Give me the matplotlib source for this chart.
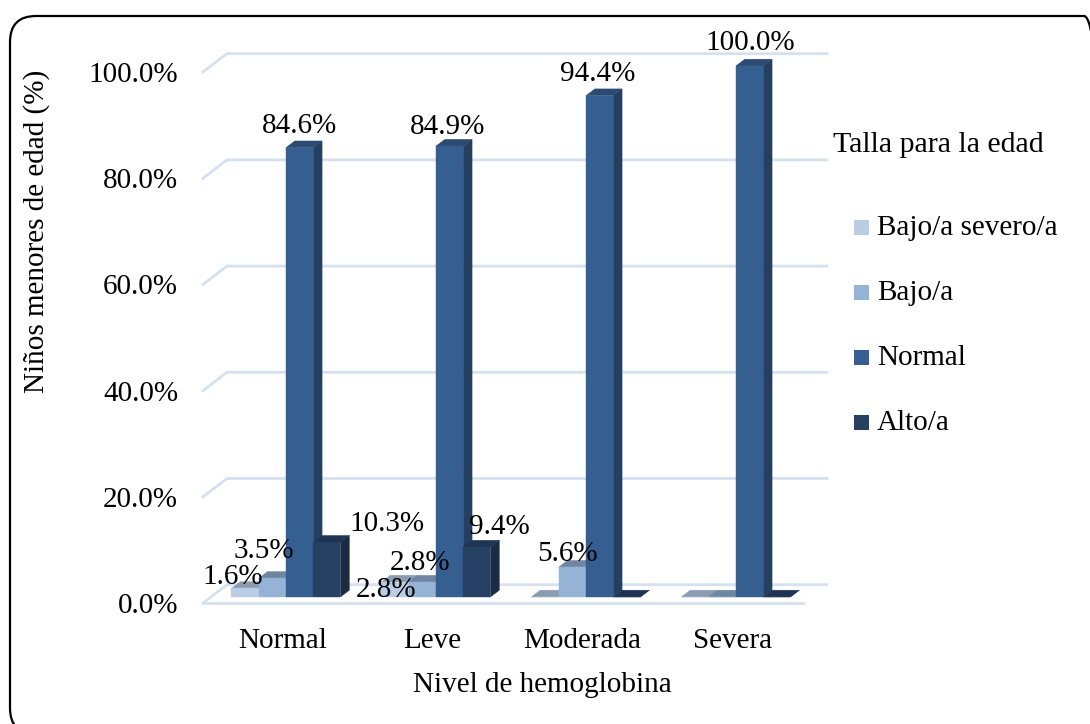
import matplotlib

matplotlib.use("Agg")
import matplotlib.pyplot as plt
from matplotlib.patches import Polygon, Rectangle, FancyBboxPatch
from matplotlib.transforms import IdentityTransform

categories = ["Normal", "Leve", "Moderada", "Severa"]
series_names = ["Bajo/a severo/a", "Bajo/a", "Normal", "Alto/a"]
bajo_severo = [1.6, 2.8, 0.0, 0.0]
bajo = [3.5, 2.8, 5.6, 0.0]
normal = [84.6, 84.9, 94.4, 100.0]
alto = [10.3, 9.4, 0.0, 0.0]
yticks = [0, 20, 40, 60, 80, 100]

# face colours per series: front, top, side
face_colors = [
    ("#B9CDE5", "#8B9BB0", "#9AABC0"),
    ("#95B3D7", "#6F86A2", "#7A93B2"),
    ("#365F91", "#2C4B73", "#253F60"),
    ("#264063", "#1F3452", "#1A2B44"),
]
legend_colors = ["#B9CDE5", "#95B3D7", "#376092", "#254061"]
grid_color = "#D6E1EF"

# label nudges in pixels (right, up) from the front top centre of each bar
label_nudge = {
    (0, 0): (-12, 14), (0, 1): (-8, 30), (0, 2): (0, 24), (0, 3): (60, 21),
    (1, 0): (-9, -5), (1, 1): (-2, 22), (1, 2): (-2, 22), (1, 3): (23, 23),
    (2, 1): (-5, 16), (2, 2): (-2, 24), (3, 2): (1, 25),
}

W, H = 1090, 724
DPI = 100
FS = 21
plt.rcParams["font.family"] = ["Liberation Serif", "DejaVu Serif"]

# pseudo-3d geometry, in data units
DX, DY = 0.16, 3.45        # full floor depth offset
Z0, Z1 = 0.33, 0.70        # bar front/back depth
GAP = 1.5                  # gap width relative to bar width
bw = 1.0 / (len(series_names) + GAP)


def fx(px):
    return px / W


def fy(py):
    return (H - py) / H


fig = plt.figure(figsize=(W / DPI, H / DPI), dpi=DPI)
fig.patch.set_facecolor("white")

px_per_unit = 5.31
ax = fig.add_axes([fx(203), fy(603), 624 / W, 105 * px_per_unit / H])
ax.set_xlim(0, len(categories) + DX)
ax.set_ylim(0, 105)
for s in ax.spines.values():
    s.set_visible(False)
ax.patch.set_alpha(0)

# walls: gridlines running along side wall and back wall
for t in yticks:
    ax.plot([0, DX, len(categories) + DX], [t, t + DY, t + DY],
            color=grid_color, lw=2.0, solid_joinstyle="miter", zorder=1, clip_on=False)
ax.plot([0, len(categories)], [0, 0], color=grid_color, lw=2.0, zorder=1, clip_on=False)

all_series = [bajo_severo, bajo, normal, alto]
for i in range(len(categories)):
    for j, vals in enumerate(all_series):
        v = vals[i]
        xl = i + (GAP / 2 + j) * bw
        xr = xl + bw
        front_c, top_c, side_c = face_colors[j]
        f0x, f0y = Z0 * DX, Z0 * DY
        f1x, f1y = Z1 * DX, Z1 * DY
        side = Polygon([(xr + f0x, f0y), (xr + f1x, f1y), (xr + f1x, v + f1y), (xr + f0x, v + f0y)],
                       closed=True, fc=side_c, ec=side_c, lw=0.3, zorder=3 + i * 10 + j * 2)
        top = Polygon([(xl + f0x, v + f0y), (xr + f0x, v + f0y), (xr + f1x, v + f1y), (xl + f1x, v + f1y)],
                      closed=True, fc=top_c, ec=top_c, lw=0.3, zorder=3 + i * 10 + j * 2)
        front = Rectangle((xl + f0x, f0y), bw, v, fc=front_c, ec=front_c, lw=0.3,
                          zorder=4 + i * 10 + j * 2)
        for p in (side, top, front):
            p.set_clip_on(False)
            ax.add_patch(p)
        if v > 0:
            dx, dy = label_nudge.get((i, j), (0, 23))
            ax.annotate(f"{v:.1f}%", xy=(xl + f0x + bw / 2, v + f0y),
                        xytext=(dx * 0.72, (dy - 9.5) * 0.72), textcoords="offset points",
                        ha="center", va="baseline", fontsize=FS, zorder=60, annotation_clip=False)

ax.set_yticks(yticks)
ax.set_yticklabels([f"{t:.1f}%" for t in yticks], fontsize=FS)
ax.set_xticks([i + 0.53 for i in range(len(categories))])
ax.set_xticklabels(categories, fontsize=FS)
ax.tick_params(axis="y", length=0, pad=18)
ax.tick_params(axis="x", length=0, pad=18)

fig.text(fx(37), fy(231), "Niños menores de edad (%)", rotation=90, ha="center", va="center",
         fontsize=FS)
fig.text(fx(542), fy(685), "Nivel de hemoglobina", ha="center", va="center", fontsize=FS)

# legend
fig.text(fx(833), fy(145), "Talla para la edad", ha="left", va="center", fontsize=FS + 0.5)
for j, name in enumerate(series_names):
    cy = 228 + j * 65
    fig.patches.append(Rectangle((fx(854), fy(cy + 7)), 15 / W, 15 / H, fc=legend_colors[j],
                                 ec="none", transform=fig.transFigure))
    fig.text(fx(877), fy(cy), name, ha="left", va="center", fontsize=FS)

# rounded outer frame
frame = FancyBboxPatch((10, H - 734), 1100, 718, boxstyle="round,pad=0,rounding_size=26",
                       fc="none", ec="black", lw=1.6, transform=IdentityTransform())
fig.patches.append(frame)

fig.savefig("out.png", dpi=DPI)
